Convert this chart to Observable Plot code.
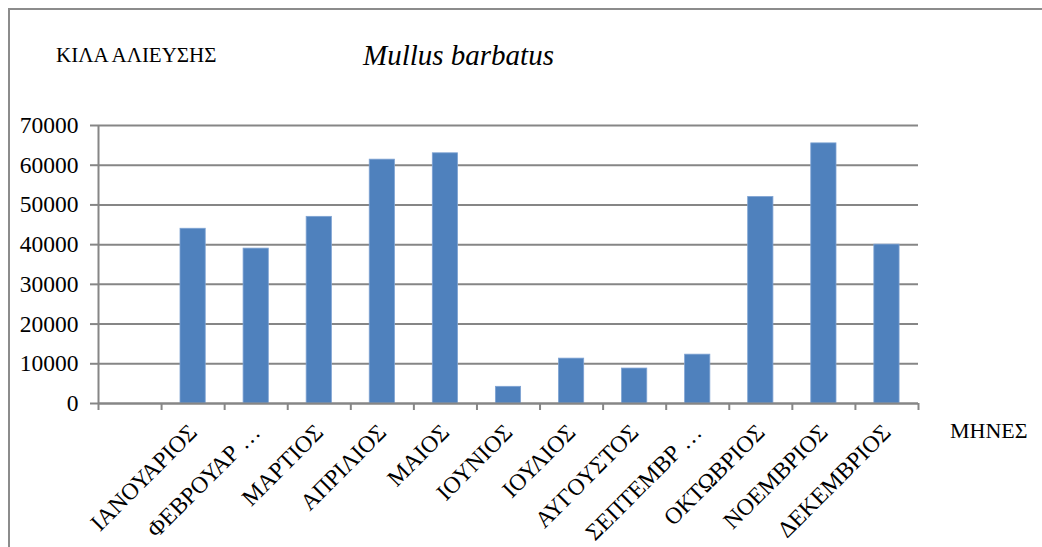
<!DOCTYPE html>
<html>
<head>
<meta charset="utf-8">
<script src="https://cdn.jsdelivr.net/npm/d3@7"></script>
<script src="https://cdn.jsdelivr.net/npm/@observablehq/plot@0.6"></script>
<style>
  html, body { margin: 0; padding: 0; background: #fff; }
  #wrap { position: relative; width: 1042px; height: 547px; overflow: hidden; font-family: "Liberation Serif", "Tinos", "DejaVu Serif", serif; }
  #frame { position: absolute; left: 8px; top: 8px; width: 1040px; height: 545px; border-left: 2px solid #8c8c8c; border-top: 2px solid #8c8c8c; box-sizing: border-box; }
  .lbl { position: absolute; white-space: nowrap; color: #000; line-height: 1; }
  #ylab { left: 56px; top: 45px; font-size: 21px; }
  #title { left: 363px; top: 41px; font-size: 29px; font-style: italic; }
  #xlab { left: 950px; top: 420px; font-size: 22px; }
  #chart { position: absolute; left: 0; top: 0; }
</style>
</head>
<body>
<div id="wrap">
  <div id="chart"></div>
  <div id="frame"></div>
  <div class="lbl" id="ylab">ΚΙΛΑ ΑΛΙΕΥΣΗΣ</div>
  <div class="lbl" id="title">Mullus barbatus</div>
  <div class="lbl" id="xlab">ΜΗΝΕΣ</div>
</div>
<script>
// Categories (first slot is an empty category, as in the original)
const months = ["", "ΙΑΝΟΥΑΡΙΟΣ", "ΦΕΒΡΟΥΑΡ …", "ΜΑΡΤΙΟΣ", "ΑΠΡΙΛΙΟΣ", "ΜΑΙΟΣ", "ΙΟΥΝΙΟΣ",
                "ΙΟΥΛΙΟΣ", "ΑΥΓΟΥΣΤΟΣ", "ΣΕΠΤΕΜΒΡ …", "ΟΚΤΩΒΡΙΟΣ", "ΝΟΕΜΒΡΙΟΣ", "ΔΕΚΕΜΒΡΙΟΣ"];
// Catch in kg
const kilos = [null, 44000, 39000, 47000, 61400, 63000, 4200, 11300, 8800, 12300, 52000, 65500, 40000];
// Y tick values
const yTicks = [0, 10000, 20000, 30000, 40000, 50000, 60000, 70000];

const data = months.map((m, i) => ({i, month: m, kg: kilos[i]})).filter(d => d.kg != null);
const n = months.length;
const boundaries = d3.range(n + 1);
const centers = d3.range(n).map(i => i + 0.5);
const grey = "#868686";
const serif = "Liberation Serif, Tinos, DejaVu Serif, serif";

const chart = Plot.plot({
  width: 1042,
  height: 547,
  marginLeft: 98,
  marginRight: 124,
  marginTop: 125,
  marginBottom: 144,
  style: {fontFamily: serif, fontSize: "22px", color: "#000", background: "transparent"},
  x: {type: "linear", domain: [0, n]},
  y: {domain: [0, 70000]},
  marks: [
    Plot.gridY(yTicks, {stroke: grey, strokeOpacity: 1, strokeWidth: 2}),
    Plot.rectY(data, {x1: d => d.i + 0.3, x2: d => d.i + 0.7, y: "kg", fill: "#4F81BD", stroke: "#7fa3d3", strokeWidth: 0.8}),
    Plot.ruleX([0], {y1: 0, y2: 70000, stroke: grey, strokeWidth: 2}),
    Plot.ruleY([0], {stroke: grey, strokeWidth: 2}),
    Plot.axisY({ticks: yTicks, tickFormat: d => String(d), tickSize: 8, tickPadding: 12, stroke: grey, strokeWidth: 2, label: null, fontSize: 23.5, fontFamily: serif}),
    Plot.axisX({ticks: boundaries, tickFormat: () => "", tickSize: 7, stroke: grey, strokeWidth: 2, label: null}),
    Plot.axisX({ticks: centers, tickFormat: v => months[Math.floor(v)], tickSize: 0, tickPadding: 25, tickRotate: -45, label: null, fontSize: 23.5, fontFamily: serif})
  ]
});
document.getElementById("chart").appendChild(chart);
</script>
</body>
</html>
